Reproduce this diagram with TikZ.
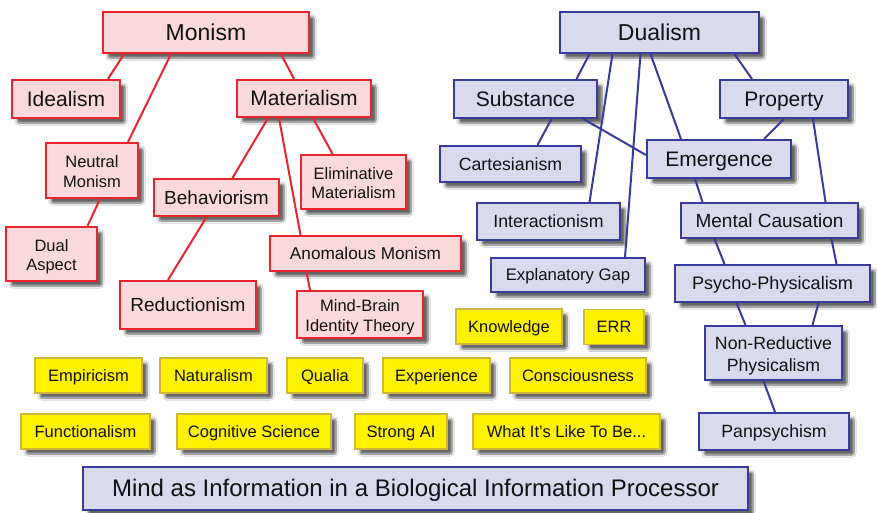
\documentclass[tikz,border=0pt]{standalone}
\usepackage{fontspec}
\setmainfont{Liberation Sans}
\usepackage{tikz}
\usetikzlibrary{shadows.blur}

\definecolor{monoline}{HTML}{E8242C}
\definecolor{monofill}{HTML}{FAD9DC}
\definecolor{dualline}{HTML}{363B9C}
\definecolor{dualfill}{HTML}{DADAEF}
\definecolor{topicline}{HTML}{CDB83C}
\definecolor{topicfill}{HTML}{FFF200}
\definecolor{ink}{HTML}{111111}

\newcommand{\fs}[1]{\fontsize{#1pt}{1.2\dimexpr#1pt\relax}\selectfont}

\begin{document}
\begin{tikzpicture}[x=1pt,y=-1pt,
	box/.style={rectangle, inner sep=2pt, text=ink,
		execute at begin node=\rule[-0.25em]{0pt}{1.2em},
		blur shadow={shadow xshift=5pt, shadow yshift=-5pt, shadow blur steps=7, shadow blur extra rounding=2pt, shadow opacity=60}},
	twoline/.style={align=center, execute at begin node=\rule{0pt}{2.3em}},
	monobox/.style={box, draw=monoline, fill=monofill, line width=2.2pt},
	dualbox/.style={box, draw=dualline, fill=dualfill, line width=2pt},
	topicbox/.style={box, draw=topicline, fill=topicfill, line width=1.4pt, minimum height=35pt, font=\fs{16.5}},
	monoedge/.style={draw=monoline, line width=2pt},
	dualedge/.style={draw=dualline, line width=2pt},
]

% canvas %{{{2

	\useasboundingbox[fill=white] (0,0) rectangle (877,512);

% monism %{{{2

	\node[monobox, minimum width=206pt, minimum height=41pt, font=\fs{23}] (monism) at (206,32.5) {Monism};
	\node[monobox, minimum width=108pt, minimum height=38pt, font=\fs{21}] (idealism) at (66,99) {Idealism};
	\node[monobox, minimum width=134pt, minimum height=37pt, font=\fs{21}] (materialism) at (304,98.5) {Materialism};
	\node[monobox, twoline, minimum width=92pt, minimum height=55pt, font=\fs{16.5}] (neutral) at (92,170.5) {Neutral\\Monism};
	\node[monobox, twoline, minimum width=105pt, minimum height=54pt, font=\fs{16.5}] (eliminative) at (353.5,182) {Eliminative\\Materialism};
	\node[monobox, minimum width=125pt, minimum height=37pt, font=\fs{19}] (behaviorism) at (216.5,197.5) {Behaviorism};
	\node[monobox, twoline, minimum width=91pt, minimum height=54pt, font=\fs{16.5}] (dual) at (51.5,254) {Dual\\Aspect};
	\node[monobox, minimum width=191pt, minimum height=35pt, font=\fs{17.2}] (anomalous) at (365.5,253.5) {Anomalous Monism};
	\node[monobox, minimum width=136pt, minimum height=48pt, font=\fs{19}] (reductionism) at (188,305) {Reductionism};
	\node[monobox, twoline, minimum width=126pt, minimum height=47pt, font=\fs{16.5}] (mindbrain) at (360,314.5) {Mind-Brain\\Identity Theory};

% dualism %{{{2

	\node[dualbox, minimum width=199pt, minimum height=41pt, font=\fs{23}] (dualism) at (659.5,32.5) {Dualism};
	\node[dualbox, minimum width=143pt, minimum height=38pt, font=\fs{21}] (substance) at (525.5,99) {Substance};
	\node[dualbox, minimum width=128pt, minimum height=38pt, font=\fs{21}] (property) at (784,99) {Property};
	\node[dualbox, minimum width=141pt, minimum height=36pt, font=\fs{17.7}] (cartesianism) at (510.5,164) {Cartesianism};
	\node[dualbox, minimum width=144pt, minimum height=38pt, font=\fs{21}] (emergence) at (719,159) {Emergence};
	\node[dualbox, minimum width=143pt, minimum height=37pt, font=\fs{17.7}] (interactionism) at (548.5,221.5) {Interactionism};
	\node[dualbox, minimum width=177pt, minimum height=35pt, font=\fs{19}] (mental) at (769.5,220.5) {Mental Causation};
	\node[dualbox, minimum width=154pt, minimum height=34pt, font=\fs{16.7}] (gap) at (568,275) {Explanatory Gap};
	\node[dualbox, minimum width=195pt, minimum height=37pt, font=\fs{18.1}] (psycho) at (772.5,283.5) {Psycho-Physicalism};
	\node[dualbox, twoline, minimum width=137pt, minimum height=54pt, font=\fs{17.7}] (nonreductive) at (773.5,353) {Non-Reductive\\Physicalism};
	\node[dualbox, minimum width=150pt, minimum height=37pt, font=\fs{17.7}] (panpsychism) at (774,431.5) {Panpsychism};

% topics %{{{2

	\foreach \name/\x/\y/\w/\txt in {
		knowledge/509/326.5/106/Knowledge,
		err/614/327/60/ERR,
		empiricism/88.5/375.5/107/Empiricism,
		naturalism/213.5/375.5/107/Naturalism,
		qualia/325/375.5/76/Qualia,
		experience/436.5/375.5/107/Experience,
		consciousness/578/375.5/136/Consciousness,
		functionalism/85.5/431.5/129/Functionalism,
		cogsci/254/431.5/154/Cognitive Science,
		strongai/401/431.5/92/Strong AI} {
		\node[topicbox, minimum width=\w pt] (\name) at (\x,\y) {\txt};
	}
	\node[topicbox, minimum width=187pt] (likeness) at (566.5,431.5) {What It's Like To Be...};

% processor %{{{2

	\node[dualbox, minimum width=665pt, minimum height=43pt, font=\fs{24}] (processor) at (415.5,488.5) {Mind as Information in a Biological Information Processor};

% monism links %{{{2

	\draw[monoedge] ([xshift=-82pt]monism.south) -- ([xshift=42pt]idealism.north);
	\draw[monoedge] ([xshift=-35pt]monism.south) -- ([xshift=36pt]neutral.north);
	\draw[monoedge] ([xshift=75pt]monism.south) -- ([xshift=-10pt]materialism.north);
	\draw[monoedge] ([xshift=-36pt]materialism.south) -- ([xshift=16pt]behaviorism.north);
	\draw[monoedge] ([xshift=-25pt]materialism.south) -- ([xshift=-65pt]anomalous.north);
	\draw[monoedge] ([xshift=9pt]materialism.south) -- ([xshift=-21pt]eliminative.north);
	\draw[monoedge] ([xshift=8pt]neutral.south) -- ([xshift=36pt]dual.north);
	\draw[monoedge] ([xshift=-10pt]behaviorism.south) -- ([xshift=-20pt]reductionism.north);
	\draw[monoedge] ([xshift=-59pt]anomalous.south) -- ([xshift=-50pt]mindbrain.north);

% dualism links %{{{2

	\draw[dualedge] ([xshift=-70pt]dualism.south) -- ([xshift=51pt]substance.north);
	\draw[dualedge] ([xshift=-47pt]dualism.south) -- ([xshift=41pt]interactionism.north);
	\draw[dualedge] ([xshift=-19pt]dualism.south) -- ([xshift=57pt]gap.north);
	\draw[dualedge] ([xshift=-9pt]dualism.south) -- ([xshift=-38pt]emergence.north);
	\draw[dualedge] ([xshift=75pt]dualism.south) -- ([xshift=-32pt]property.north);
	\draw[dualedge] ([xshift=26pt]substance.south) -- ([xshift=27pt]cartesianism.north);
	\draw[dualedge] ([xshift=58pt]substance.south) -- ([yshift=4pt]emergence.west);
	\draw[dualedge] (property.south) -- ([xshift=45pt]emergence.north);
	\draw[dualedge] ([xshift=29pt]property.south) -- ([xshift=56pt]mental.north);
	\draw[dualedge] ([xshift=-24pt]emergence.south) -- ([xshift=-67pt]mental.north);
	\draw[dualedge] ([xshift=-55pt]mental.south) -- ([xshift=-48pt]psycho.north);
	\draw[dualedge] ([xshift=62pt]mental.south) -- ([xshift=64pt]psycho.north);
	\draw[dualedge] ([xshift=-36pt]psycho.south) -- ([xshift=-28pt]nonreductive.north);
	\draw[dualedge] ([xshift=46pt]psycho.south) -- ([xshift=39pt]nonreductive.north);
	\draw[dualedge] ([xshift=-10pt]nonreductive.south) -- ([xshift=1pt]panpsychism.north);

\end{tikzpicture}
\end{document}
